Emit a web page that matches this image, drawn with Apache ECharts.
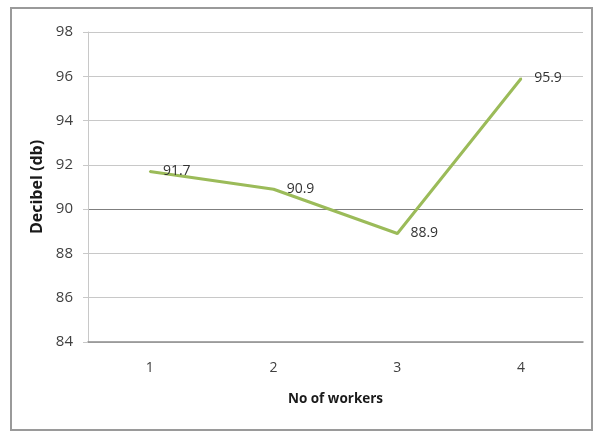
<!DOCTYPE html>
<html>
<head>
<meta charset="utf-8">
<script src="https://cdn.jsdelivr.net/npm/echarts@6/dist/echarts.min.js"></script>
<style>
  html, body { margin: 0; padding: 0; background: #fff; }
  #chart { width: 593px; height: 431px; }
</style>
</head>
<body>
<div id="chart"></div>
<script>
// Noise level recorded against number of workers
const workers = ['1', '2', '3', '4'];
const decibels = [91.7, 90.9, 88.9, 95.9];
const yTicks = [84, 86, 88, 90, 92, 94, 96, 98];

const fontFamily = '"Open Sans", "Noto Sans", sans-serif';
// one colour per horizontal gridline; the 90 line is drawn darker
const gridColors = yTicks.map(v => (v === 90 ? '#7f7f7f' : '#c8c8c8'));

const chart = echarts.init(document.getElementById('chart'), null, { renderer: 'canvas' });
chart.setOption({
  animation: false,
  backgroundColor: '#ffffff',
  graphic: [{
    type: 'rect',
    shape: { x: 11, y: 8, width: 581, height: 422 },
    style: { fill: 'none', stroke: '#9a9a9a', lineWidth: 2 },
    silent: true,
    z: -1
  }],
  grid: { left: 88, right: 10, top: 32, bottom: 89 },
  xAxis: {
    type: 'category',
    data: workers,
    boundaryGap: true,
    name: 'No of workers',
    nameLocation: 'middle',
    nameGap: 50,
    nameTextStyle: { fontFamily, fontSize: 13.5, fontWeight: 'bold', color: '#1a1a1a' },
    axisLine: { lineStyle: { color: '#8c8c8c', width: 1.5 } },
    axisTick: { show: false },
    axisLabel: { fontFamily, fontSize: 14, color: '#404040', margin: 19 },
    splitLine: { show: false }
  },
  yAxis: {
    type: 'value',
    min: yTicks[0],
    max: yTicks[yTicks.length - 1],
    interval: 2,
    name: 'Decibel (db)',
    nameLocation: 'middle',
    nameGap: 42,
    nameTextStyle: { fontFamily, fontSize: 16, fontWeight: 'bold', color: '#1a1a1a' },
    axisLine: { show: true, lineStyle: { color: '#c8c8c8', width: 1 } },
    axisTick: { show: true, length: 5, lineStyle: { color: '#c8c8c8' } },
    axisLabel: { fontFamily, fontSize: 15, color: '#404040', margin: 15 },
    splitLine: { show: true, lineStyle: { color: gridColors, width: 1.2 } }
  },
  series: [{
    type: 'line',
    data: decibels,
    symbol: 'circle',
    symbolSize: 2,
    showSymbol: true,
    showAllSymbol: true,
    itemStyle: { color: '#9bbb59' },
    lineStyle: { color: '#9bbb59', width: 3 },
    label: {
      show: true,
      position: 'right',
      distance: 12,
      fontFamily,
      fontSize: 14,
      color: '#333333'
    },
    labelLayout: { hideOverlap: false }
  }]
});
</script>
</body>
</html>
